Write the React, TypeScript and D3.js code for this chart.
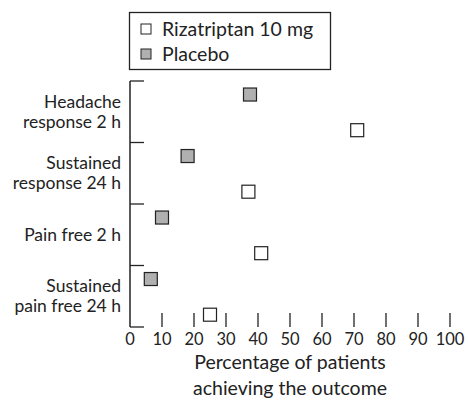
import React from "react";
import * as d3 from "d3";

const categories = [
  ["Headache", "response 2 h"],
  ["Sustained", "response 24 h"],
  ["Pain free 2 h"],
  ["Sustained", "pain free 24 h"],
];
const rizatriptan = [71, 37, 41, 25];
const placebo = [37.5, 18, 10, 6.5];
const xTicks = [0, 10, 20, 30, 40, 50, 60, 70, 80, 90, 100];
const seriesNames = ["Rizatriptan 10 mg", "Placebo"];

const font = "Lato, 'DejaVu Sans', sans-serif";
const ink = "#222";

export default function App() {
  const width = 468;
  const height = 404;
  const keys = categories.map((c) => c.join(" "));
  const x = d3.scaleLinear([0, 100], [130, 450]);
  const y = d3.scaleBand(keys, [81, 327]);
  const bw = y.bandwidth();
  const bounds = [...keys.map((k) => y(k)!), 327];
  const sq = 13;

  return (
    <svg
      width={width}
      height={height}
      style={{ position: "absolute", left: 0, top: 0, background: "#fff" }}
      fontFamily={font}
    >
      {/* legend */}
      <rect x={129.5} y={12.5} width={201} height={57} fill="none" stroke={ink} strokeWidth={1.3} />
      {seriesNames.map((n, i) => (
        <g key={n} transform={`translate(0,${29 + i * 25})`}>
          <rect x={141} y={-5} width={10} height={10} fill={i === 0 ? "#fff" : "#b0b0b0"} stroke={ink} strokeWidth={1} />
          <text x={162} y={0} dy="0.35em" fontSize={19.5} fill={ink}>{n}</text>
        </g>
      ))}

      {/* y axis */}
      <line x1={x(0)} x2={x(0)} y1={81} y2={327} stroke={ink} strokeWidth={1.5} />
      {bounds.map((b, i) => (
        <line key={i} x1={x(0)} x2={x(0) + 14} y1={b} y2={b} stroke={ink} strokeWidth={1.3} />
      ))}
      {categories.map((c, i) => {
        const cy = y(keys[i])! + bw / 2;
        return (
          <text key={i} x={121} textAnchor="end" fontSize={17.5} fill={ink}>
            {c.map((line, j) => (
              <tspan key={j} x={121} y={cy + (j - (c.length - 1) / 2) * 20} dy="0.35em">{line}</tspan>
            ))}
          </text>
        );
      })}

      {/* x axis ticks */}
      {xTicks.filter((t) => t > 0).map((t) => (
        <line key={t} x1={x(t)} x2={x(t)} y1={327} y2={313} stroke={ink} strokeWidth={1.3} />
      ))}
      {xTicks.map((t) => (
        <text key={t} x={x(t)} y={339} dy="0.35em" textAnchor="middle" fontSize={16.5} fill={ink}>{t}</text>
      ))}
      <text x={290} y={362} dy="0.35em" textAnchor="middle" fontSize={19.5} fill={ink}>Percentage of patients</text>
      <text x={290} y={388} dy="0.35em" textAnchor="middle" fontSize={19.5} fill={ink}>achieving the outcome</text>

      {/* markers */}
      {keys.map((k, i) => (
        <g key={k}>
          <rect x={x(placebo[i]) - sq / 2} y={y(k)! + bw * 0.22 - sq / 2} width={sq} height={sq}
            fill="#b0b0b0" stroke={ink} strokeWidth={1.2} />
          <rect x={x(rizatriptan[i]) - sq / 2} y={y(k)! + bw * 0.8 - sq / 2} width={sq} height={sq}
            fill="#fff" stroke={ink} strokeWidth={1.2} />
        </g>
      ))}
    </svg>
  );
}
